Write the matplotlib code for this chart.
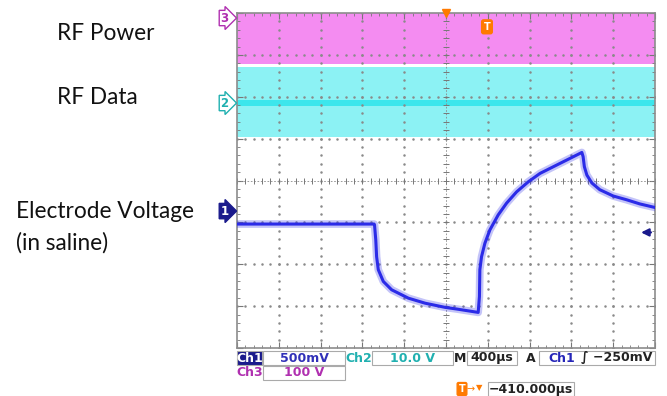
import numpy as np
import matplotlib
matplotlib.use("Agg")
import matplotlib.pyplot as plt

# screen is 10 x 8 divisions, y from -4 (bottom) to 4 (top)
band_t = [0, 10]
ch3_band = [2.78, 4.0]          # RF Power (magenta)
ch2_band = [1.04, 2.71]         # RF Data (cyan)
ch2_core = [1.77, 1.93]

# Ch1 electrode voltage (divisions)
ch1_t = [0.0, 1.0, 2.0, 3.0, 3.28, 3.29, 3.32, 3.34, 3.38, 3.50, 3.70, 4.10, 4.50,
         4.98, 5.26, 5.77, 5.80, 5.81, 5.85, 5.93, 6.05, 6.25, 6.45, 6.69, 6.97,
         7.25, 7.57, 7.89, 8.25, 8.28, 8.31, 8.37, 8.49, 8.68, 9.00, 9.32, 9.64, 9.98]
ch1_v = [-1.04, -1.04, -1.04, -1.04, -1.04, -1.06, -1.42, -1.82, -2.13, -2.41, -2.61,
         -2.81, -2.93, -3.03, -3.07, -3.15, -2.77, -2.13, -1.82, -1.50, -1.18, -0.82,
         -0.54, -0.27, -0.03, 0.17, 0.33, 0.49, 0.67, 0.57, 0.33, 0.13, -0.06, -0.22,
         -0.37, -0.46, -0.56, -0.64]

ch1_ground = -0.73
ch2_ground = 1.85
ch3_ground = 3.88

magenta = "#f48cf1"
cyan = "#8cf2f4"
cyan_dark = "#3ce6ec"
blue = "#2b2be8"
navy = "#1a1a8c"
orange = "#ff7a00"

fig = plt.figure(figsize=(6.67, 3.96), dpi=100)
ax = fig.add_axes([237 / 667, 48 / 396, 418 / 667, 335 / 396])
ax.set_xlim(0, 10)
ax.set_ylim(-4, 4)

# RF traces
ax.fill_between(band_t, ch3_band[0], ch3_band[1], color=magenta, lw=0, zorder=1)
ax.fill_between(band_t, ch2_band[0], ch2_band[1], color=cyan, lw=0, zorder=1)
ax.fill_between(band_t, ch2_core[0], ch2_core[1], color=cyan_dark, lw=0, zorder=1)

# graticule
dots = np.arange(0, 10.01, 0.2)
vy = np.arange(-4, 4.01, 0.2)
for gx in range(1, 10):
    if gx == 5:
        continue
    ax.plot([gx] * len(vy), vy, ls="none", marker=".", ms=1.6, color="#8a8a8a", zorder=2)
for gy in range(-3, 4):
    if gy == 0:
        continue
    ax.plot(dots, [gy] * len(dots), ls="none", marker=".", ms=1.6, color="#8a8a8a", zorder=2)
ax.axhline(0, color="#8a8a8a", lw=0.6, ls=(0, (2, 2)), zorder=2)
ax.axvline(5, color="#8a8a8a", lw=0.6, ls=(0, (2, 2)), zorder=2)
ax.plot(dots, [0] * len(dots), ls="none", marker="|", ms=4, mew=0.7, color="#777777", zorder=2)
ax.plot([5] * len(vy), vy, ls="none", marker="_", ms=4, mew=0.7, color="#777777", zorder=2)

ax.set_xticks(range(0, 11))
ax.set_yticks(range(-4, 5))
ax.set_xticks(dots, minor=True)
ax.set_yticks(vy, minor=True)
ax.tick_params(which="both", direction="in", top=True, right=True, colors="#777777",
               labelbottom=False, labelleft=False)
ax.tick_params(which="major", length=4)
ax.tick_params(which="minor", length=2)
for s in ax.spines.values():
    s.set_color("#8c8c8c")
    s.set_linewidth(1.2)

# Ch1 trace (thick, fuzzy like the scope noise)
ax.plot(ch1_t, ch1_v, color=blue, lw=5.5, alpha=0.28, zorder=3)
ax.plot(ch1_t, ch1_v, color=blue, lw=2.2, zorder=4)

# trigger marks
ax.plot(5, 4, marker="v", ms=6, color=orange, clip_on=False, zorder=5)
ax.text(5.98, 3.67, "T", ha="center", va="center", fontsize=7, fontweight="bold", color="white",
        bbox=dict(boxstyle="round,pad=0.2", fc=orange, ec=orange), zorder=5)
ax.annotate("", xy=(9.6, -1.24), xytext=(9.97, -1.24), annotation_clip=False,
            arrowprops=dict(arrowstyle="-|>", color=navy, lw=1.6, mutation_scale=11), zorder=5)

# channel ground markers on the left edge
def ch_marker(y, label, col, filled):
    ax.text(-0.3, y, label, ha="center", va="center", fontsize=8.5, fontweight="bold",
            color="white" if filled else col, clip_on=False,
            bbox=dict(boxstyle="rarrow,pad=0.1", fc=col if filled else "white", ec=col, lw=1))

ch_marker(ch3_ground, "3", "#b030b0", False)
ch_marker(ch2_ground, "2", "#20b0b0", False)
ch_marker(ch1_ground, "1", navy, True)

# labels
lab = dict(fontsize=16.3, family="Lato", color="#111111", va="center", ha="left")
fig.text(57 / 667, 1 - 33 / 396, "RF Power", **lab)
fig.text(57 / 667, 1 - 98 / 396, "RF Data", **lab)
fig.text(16 / 667, 1 - 212 / 396, "Electrode Voltage", **lab)
fig.text(16 / 667, 1 - 243 / 396, "(in saline)", **lab)

# readouts
def box(x0, x1, y0, y1, fc="white"):
    fig.patches.append(plt.Rectangle((x0 / 667, 1 - y1 / 396), (x1 - x0) / 667, (y1 - y0) / 396,
                                     transform=fig.transFigure, fc=fc, ec="#aaaaaa", lw=0.8))

def rtext(x, y, s, col, ha="center"):
    fig.text(x / 667, 1 - y / 396, s, fontsize=9, fontweight="bold", color=col,
             ha=ha, va="center", family="DejaVu Sans")

box(237, 262, 351, 365, fc=navy)
rtext(249.5, 358, "Ch1", "white")
box(263, 345, 351, 365)
rtext(304, 358, "500mV", "#3030b8")
rtext(359, 358, "Ch2", "#20b0b0")
box(372, 453, 351, 365)
rtext(412, 358, "10.0 V", "#20b0b0")
rtext(460, 358, "M", "#222222")
box(467, 517, 351, 365)
rtext(492, 358, "400µs", "#222222")
rtext(531, 358, "A", "#222222")
box(539, 655, 351, 365)
rtext(548, 358, "Ch1", "#2525b8", ha="left")
rtext(652, 358, "∫ −250mV", "#222222", ha="right")
rtext(249.5, 373, "Ch3", "#b030b0")
box(263, 345, 366, 380)
rtext(304, 373, "100 V", "#b030b0")

fig.text(462 / 667, 1 - 389 / 396, "T", fontsize=7, fontweight="bold", color="white", ha="center",
         va="center", bbox=dict(boxstyle="round,pad=0.15", fc=orange, ec=orange))
fig.text(471 / 667, 1 - 389 / 396, "→", fontsize=7, color=orange, ha="center", va="center")
fig.text(479 / 667, 1 - 388 / 396, "▼", fontsize=6, color=orange, ha="center", va="center")
box(488, 574, 382, 396)
rtext(531, 389, "−410.000µs", "#222222")

fig.savefig("out.png", dpi=100)
